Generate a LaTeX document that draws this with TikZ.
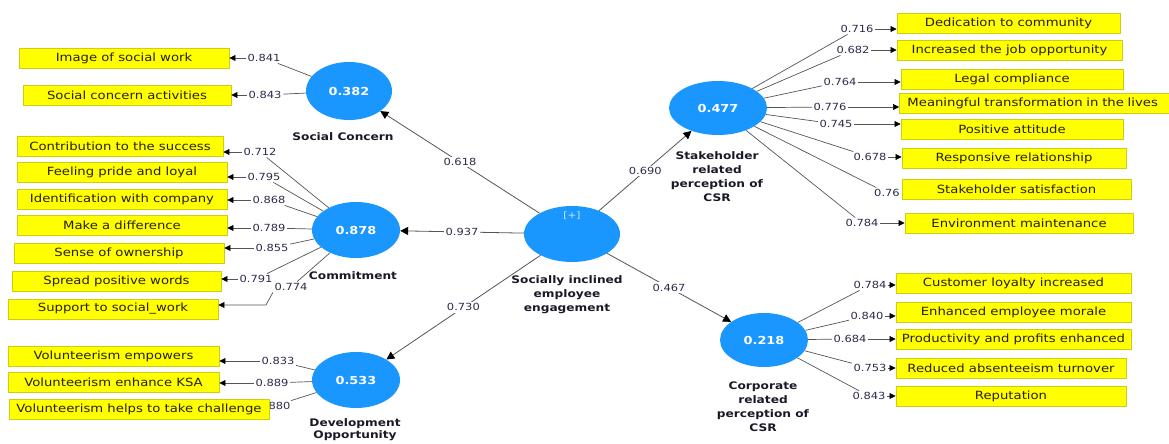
\documentclass[tikz,border=0pt]{standalone}
\usepackage{fontspec}
\newfontfamily\vf{DejaVu Sans}[FakeStretch=1.17]
\usetikzlibrary{arrows.meta,shapes.geometric}
\definecolor{lvblue}{RGB}{26,150,255}
\definecolor{ybox}{RGB}{255,255,0}
\definecolor{yedge}{RGB}{205,205,20}
\definecolor{numc}{RGB}{45,45,75}
\definecolor{linec}{RGB}{85,85,85}
\definecolor{namec}{RGB}{25,25,40}
\definecolor{boxtxt}{RGB}{40,30,10}
\tikzset{
  lv/.style={ellipse, fill=lvblue, draw=none, inner sep=0pt, text=white,
    font=\vf\bfseries\fontsize{11}{13}\selectfont},
  ind/.style={rectangle, fill=ybox, draw=yedge, line width=0.9pt, minimum height=20pt,
    inner sep=0pt, text=boxtxt, font=\vf\fontsize{11.3}{12}\selectfont},
  ld/.style={inner sep=1.5pt, text=numc, font=\vf\fontsize{9.8}{11}\selectfont},
  lvname/.style={align=center, text=namec, font=\vf\bfseries\fontsize{10.4}{14}\selectfont},
  link/.style={draw=linec, line width=0.7pt},
  arr/.style={draw=linec, line width=0.7pt, -{Triangle[length=6pt,width=6pt,color=black]}},
  strarr/.style={draw=linec, line width=0.8pt, -{Triangle[length=8pt,width=8pt,color=black]}}
}
\begin{document}
\begin{tikzpicture}[x=1pt,y=-1pt]
\useasboundingbox[fill=white] (0,0) rectangle (1169,444);

% latent variables
\node[lv, minimum width=86pt, minimum height=58pt] (SC) at (349,91) {0.382};
\node[lv, minimum width=88pt, minimum height=56pt] (COM) at (356,230) {0.878};
\node[lv, minimum width=88pt, minimum height=56pt] (DEV) at (356,380) {0.533};
\node[lv, minimum width=96pt, minimum height=56pt] (SIE) at (572,234) {};
\node[text=white!80!lvblue, font=\vf\fontsize{9}{10}\selectfont] (plus) at (572,216) {[+]};
\node[lv, minimum width=98pt, minimum height=54pt] (SH) at (718,108) {0.477};
\node[lv, minimum width=88pt, minimum height=54pt] (CO) at (764,340) {0.218};

% names
\node[lvname] (nSC) at (343,137) {Social Concern};
\node[lvname] (nCOM) at (353,276) {Commitment};
\node[lvname, anchor=north, inner sep=0pt, font=\vf\bfseries\fontsize{10.4}{12.5}\selectfont] (nDEV) at (355,418) {Development\\Opportunity};
\node[lvname, anchor=north] (nSIE) at (567,272) {Socially inclined\\employee\\engagement};
\node[lvname, anchor=north] (nSH) at (717,148) {Stakeholder\\related\\perception of\\CSR};
\node[lvname, anchor=north] (nCO) at (763,378) {Corporate\\related\\perception of\\CSR};

% structural paths
\draw[strarr] (SIE) -- node[ld, fill=white] {0.618} (SC);
\draw[strarr] (SIE) -- node[ld, fill=white] {0.937} (COM);
\draw[strarr] (SIE) -- node[ld, fill=white] {0.730} (DEV);
\draw[strarr] (SIE) -- node[ld, fill=white] {0.690} (SH);
\draw[strarr] (SIE) -- node[ld, fill=white] {0.467} (CO);

% loading labels (left)
\node[ld] (l1) at (264,58) {0.841};
\node[ld] (l2) at (265,95) {0.843};
\node[ld] (l3) at (260,152) {0.712};
\node[ld] (l4) at (264,177) {0.795};
\node[ld] (l5) at (269,200) {0.868};
\node[ld] (l6) at (269,228) {0.789};
\node[ld] (l7) at (272,248) {0.855};
\node[ld] (l8) at (256,279) {0.791};
\node[ld] (l9) at (291,287) {0.774};
\coordinate (k9) at (266,305);
\node[ld] (l10) at (278,361) {0.833};
\node[ld] (l11) at (272,383) {0.889};
\node[ld] (l12) at (274,406) {0.880};

% loading labels (right)
\node[ld] (r1) at (857,29) {0.716};
\node[ld] (r2) at (853,50) {0.682};
\node[ld] (r3) at (840,82) {0.764};
\node[ld] (r4) at (830,107) {0.776};
\node[ld] (r5) at (836,124) {0.745};
\node[ld] (r6) at (870,157) {0.678};
\node[ld] (r7) at (887,193) {0.76};
\node[ld] (r8) at (862,223) {0.784};
\node[ld] (r9) at (870,285) {0.784};
\node[ld] (r10) at (867,316) {0.840};
\node[ld] (r11) at (850,339) {0.684};
\node[ld] (r12) at (870,368) {0.753};
\node[ld] (r13) at (869,396) {0.843};

% circle to label lines
\foreach \l in {l1,l2} \draw[link] (SC) -- (\l);
\foreach \l in {l3,l4,l5,l6,l7,l8,l9} \draw[link] (COM) -- (\l);
\foreach \l in {l10,l11,l12} \draw[link] (DEV) -- (\l);
\foreach \r in {r1,r2,r3,r4,r5,r6,r7,r8} \draw[link] (SH) -- (\r);
\foreach \r in {r9,r10,r11,r12,r13} \draw[link] (CO) -- (\r);

% indicator boxes (left)
\node[ind, minimum width=210pt] (b1) at (124,58.5) {Image of social work};
\node[ind, minimum width=208pt] (b2) at (127,95.5) {Social concern activities};
\node[ind, minimum width=206pt] (b3) at (120,146) {Contribution to the success};
\node[ind, minimum width=210pt] (b4) at (122,172) {Feeling pride and loyal};
\node[ind, minimum width=210pt] (b5) at (122,199) {Identification with company};
\node[ind, minimum width=210pt] (b6) at (122,225) {Make a difference};
\node[ind, minimum width=210pt] (b7) at (119,253) {Sense of ownership};
\node[ind, minimum width=209pt] (b8) at (116.5,281) {Spread positive words};
\node[ind, minimum width=210pt] (b9) at (113,309) {Support to social\_work};
\node[ind, minimum width=211pt] (b10) at (113.5,356.5) {Volunteerism empowers};
\node[ind, minimum width=211pt] (b11) at (113.5,382) {Volunteerism enhance KSA};
\node[ind, minimum width=260pt] (b12) at (139,409.5) {Volunteerism helps to take challenge};

% indicator boxes (right)
\node[ind, minimum width=223pt] (b13) at (1008.5,23) {Dedication to community};
\node[ind, minimum width=225pt] (b14) at (1009.5,50.5) {Increased the job opportunity};
\node[ind, minimum width=222pt] (b15) at (1012,79) {Legal compliance};
\node[ind, minimum width=300pt, anchor=west, align=left, text width=290pt] (b16) at (899,103) {\hspace*{3pt}Meaningful transformation in the lives};
\node[ind, minimum width=222pt] (b17) at (1012,129.5) {Positive attitude};
\node[ind, minimum width=224pt] (b18) at (1014,158) {Responsive relationship};
\node[ind, minimum width=229pt] (b19) at (1016.5,189) {Stakeholder satisfaction};
\node[ind, minimum width=228pt] (b20) at (1019,223) {Environment maintenance};
\node[ind, minimum width=235pt] (b21) at (1013.5,283) {Customer loyalty increased};
\node[ind, minimum width=235pt] (b22) at (1013.5,312) {Enhanced employee morale};
\node[ind, minimum width=235pt] (b23) at (1013.5,339.5) {Productivity and profits enhanced};
\node[ind, minimum width=230pt] (b24) at (1011,368) {Reduced absenteeism turnover};
\node[ind, minimum width=230pt] (b25) at (1011,396.5) {Reputation};

% label to box arrows (left)
\draw[arr] (l1.west) -- (l1.west -| b1.east);
\draw[arr] (l2.west) -- (l2.west -| b2.east);
\draw[arr] (l3.west) -- (l3.west -| b3.east);
\draw[arr] (l4.west) -- (l4.west -| b4.east);
\draw[arr] (l5.west) -- (l5.west -| b5.east);
\draw[arr] (l6.west) -- (l6.west -| b6.east);
\draw[arr] (l7.west) -- (l7.west -| b7.east);
\draw[arr] (l8.west) -- (l8.west -| b8.east);
\draw[arr] (l9.south west) -- (k9) -- (k9 -| b9.east);
\draw[arr] (l10.west) -- (l10.west -| b10.east);
\draw[arr] (l11.west) -- (l11.west -| b11.east);

% label to box arrows (right)
\foreach \r/\b in {r1/b13,r2/b14,r3/b15,r4/b16,r5/b17,r6/b18,r8/b20,r9/b21,r10/b22,r11/b23,r12/b24,r13/b25}
  \draw[arr] (\r.east) -- (\r.east -| \b.west);
\end{tikzpicture}
\end{document}
